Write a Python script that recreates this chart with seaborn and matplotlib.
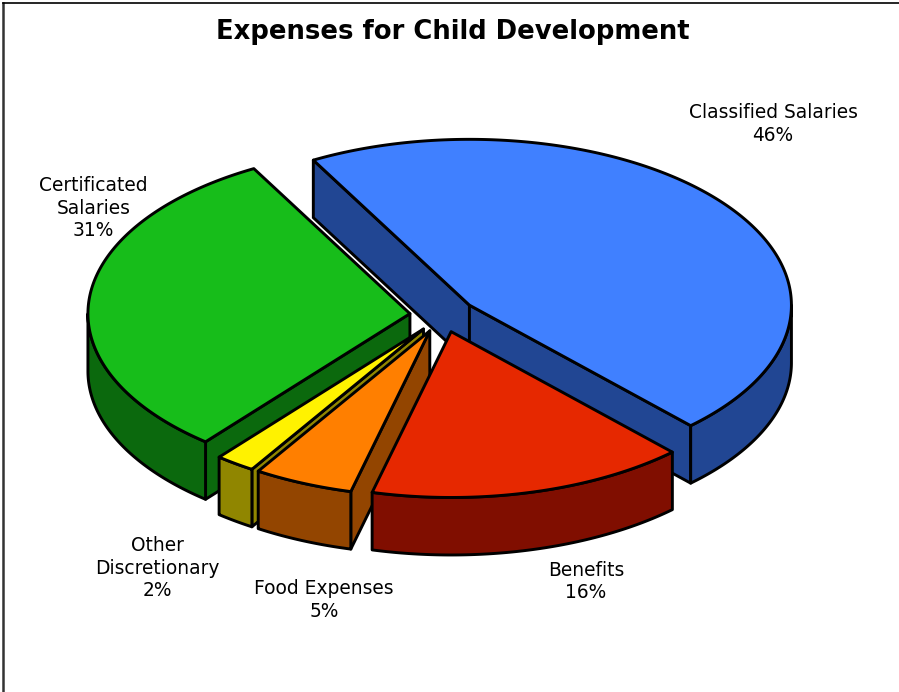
import numpy as np
import matplotlib
matplotlib.use("Agg")
import matplotlib.pyplot as plt
from matplotlib.patches import Polygon
import seaborn as sns

# Chart data, in drawing order around the pie (clockwise)
categories = ["Classified Salaries", "Benefits", "Food Expenses",
              "Other Discretionary", "Certificated Salaries"]
label_texts = ["Classified Salaries\n46%", "Benefits\n16%", "Food Expenses\n5%",
               "Other\nDiscretionary\n2%", "Certificated\nSalaries\n31%"]
percent = [46, 16, 5, 2, 31]
title = "Expenses for Child Development"

# Top and side shades for each slice
top_colors = sns.color_palette(["#4080FF", "#E62800", "#FF7F00", "#FFF200", "#17BD1A"])
side_colors = sns.color_palette(["#214693", "#800E00", "#934500", "#908600", "#0B690D"])

# Label anchors in pixels
label_x = [773, 586, 324, 157, 93.5]
label_y = [124, 581.5, 600, 568, 208]

# Pie geometry in pixels
CENTER_X, CENTER_Y = 442.8, 315.2
RADIUS_X = 322.0
TILT = 0.515
DEPTH = 57.5
EXPLODE = 33.0
START_ANGLE = 119.0
EDGE = dict(edgecolor="black", linewidth=2.1, joinstyle="round")

sns.set_theme(style="white")
plt.rcParams["font.family"] = ["DejaVu Sans"]

W, H = 899, 692
fig = plt.figure(figsize=(W / 100, H / 100), dpi=100, facecolor="white")
left, top = 3.0, 2.5
ax = fig.add_axes([left / W, 0, 1 - left / W, 1 - top / H])
ax.set_xlim(left, W)
ax.set_ylim(H, top)
ax.set_xticks([])
ax.set_yticks([])
sns.despine(ax=ax, top=False, right=True, bottom=True)
ax.spines["left"].set(color="#333333", linewidth=1.8)
ax.spines["top"].set(color="black", linewidth=1.2)


def rim(apex, angles, drop=0.0):
    """Points on the tilted rim for the given angles (degrees)."""
    t = np.radians(angles)
    return np.column_stack([apex[0] + RADIUS_X * np.cos(t),
                            apex[1] - RADIUS_X * TILT * np.sin(t) + drop])


def draw_slice(a0, a1, top_color, side_color):
    """Draw one extruded slice swept clockwise from a0 down to a1."""
    mid = np.radians((a0 + a1) / 2)
    apex = (CENTER_X + EXPLODE * np.cos(mid),
            CENTER_Y - EXPLODE * TILT * np.sin(mid))

    # Flat cut faces, only where they turn toward the viewer
    for ang, sign in ((a0, 1), (a1, -1)):
        if sign * np.cos(np.radians(ang)) < 0:
            edge = rim(apex, [ang])[0]
            quad = [apex, edge, (edge[0], edge[1] + DEPTH), (apex[0], apex[1] + DEPTH)]
            ax.add_patch(Polygon(quad, closed=True, facecolor=side_color, **EDGE))

    # Outer wall along the front half of the rim
    lo, hi = max(a1, -180.0), min(a0, 0.0)
    if hi > lo:
        arc = np.linspace(hi, lo, 120)
        wall = np.vstack([rim(apex, arc), rim(apex, arc[::-1], DEPTH)])
        ax.add_patch(Polygon(wall, closed=True, facecolor=side_color, **EDGE))

    # Top surface
    arc = np.linspace(a0, a1, 240)
    surface = np.vstack([[apex], rim(apex, arc)])
    ax.add_patch(Polygon(surface, closed=True, facecolor=top_color, **EDGE))


sweeps = np.array(percent) * 3.6
starts = START_ANGLE - np.concatenate([[0], np.cumsum(sweeps)[:-1]])
ends = starts - sweeps

# Paint from the back of the pie to the front
for i in (0, 4, 3, 2, 1):
    draw_slice(starts[i], ends[i], top_colors[i], side_colors[i])

for text, x, y in zip(label_texts, label_x, label_y):
    ax.text(x, y, text, ha="center", va="center", fontsize=13.4,
            linespacing=1.25, color="black")

ax.text(452.5, 32, title, ha="center", va="center", fontsize=18.6,
        fontweight="bold", color="black")

fig.savefig("out.png", dpi=100, facecolor="white")
